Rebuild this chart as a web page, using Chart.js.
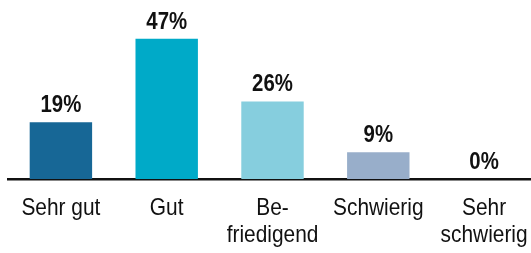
<!DOCTYPE html>
<html>
<head>
<meta charset="utf-8">
<script src="https://cdn.jsdelivr.net/npm/chart.js@4"></script>
<style>
  html, body { margin: 0; padding: 0; background: #fff; overflow: hidden; }
  /* the original plot is cropped a few px on the right, so the canvas is a bit wider than the window */
  #wrap { width: 537px; height: 253px; }
</style>
</head>
<body>
<div id="wrap"><canvas id="rating"></canvas></div>
<script>
// categories + values
const categories = ['Sehr gut', 'Gut', ['Be-', 'friedigend'], 'Schwierig', ['Sehr', 'schwierig']];
const shares = [19, 47, 26, 9, 0];
const barColors = ['#176796', '#00aac8', '#86cede', '#98aeca', '#98aeca'];

const fontFamily = '"Liberation Sans", Arial, sans-serif';

// the original uses a slightly condensed face, so squeeze the text a bit
function squeezedText(ctx, text, x, y, sx) {
  ctx.save();
  ctx.translate(x, y);
  ctx.scale(sx, 1);
  ctx.fillText(text, 0, 0);
  ctx.restore();
}

// "xx%" above each bar + category labels under the axis
const textLabels = {
  id: 'textLabels',
  afterDatasetsDraw(chart) {
    const ctx = chart.ctx;
    const meta = chart.getDatasetMeta(0);
    const xScale = chart.scales.x;
    ctx.save();
    ctx.fillStyle = '#111';
    ctx.textAlign = 'center';
    ctx.textBaseline = 'alphabetic';

    ctx.font = 'bold 24px ' + fontFamily;
    meta.data.forEach((bar, i) => {
      squeezedText(ctx, shares[i] + '%', bar.x, bar.y - 10, 0.85);
    });

    ctx.font = '24px ' + fontFamily;
    categories.forEach((label, i) => {
      const lines = Array.isArray(label) ? label : [label];
      const x = xScale.getPixelForTick(i);
      lines.forEach((line, j) => {
        squeezedText(ctx, line, x, xScale.top + 36 + j * 26.7, 0.87);
      });
    });
    ctx.restore();
  }
};

function makeChart(canvas) {
  const ctx = canvas.getContext('2d');
  new Chart(ctx, {
    type: 'bar',
    plugins: [textLabels],
    data: {
      labels: categories,
      datasets: [{
        data: shares,
        backgroundColor: barColors,
        borderWidth: 0,
        categoryPercentage: 1,
        barPercentage: 0.59
      }]
    },
    options: {
      responsive: true,
      maintainAspectRatio: false,
      animation: false,
      layout: {
        padding: { left: 8, right: 0, top: 0, bottom: 0 }
      },
      plugins: {
        legend: { display: false },
        tooltip: { enabled: false }
      },
      scales: {
        x: {
          afterFit(scale) { scale.height = 74; },
          grid: { display: false },
          border: { display: true, color: '#111', width: 2.5 },
          ticks: { display: false }
        },
        y: {
          display: false,
          min: 0,
          max: 60
        }
      }
    }
  });
}

makeChart(document.getElementById('rating'));
</script>
</body>
</html>
